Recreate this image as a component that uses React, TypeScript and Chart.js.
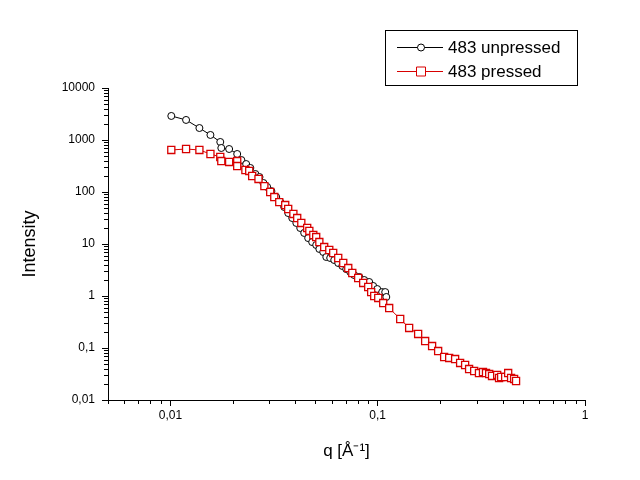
import React, { useEffect, useRef } from "react";
import { Chart, registerables } from "chart.js";

Chart.register(...registerables);

const seriesLabels = ["483 unpressed", "483 pressed"];

const unpressedQ = [
  0.0101, 0.0119, 0.0138, 0.0156, 0.0174, 0.0176, 0.0192, 0.021, 0.022, 0.0232,
  0.0243, 0.0257, 0.0269, 0.0281, 0.0293, 0.0307, 0.0324, 0.0339, 0.0354, 0.037,
  0.0387, 0.0405, 0.0423, 0.0442, 0.0462, 0.0483, 0.0505, 0.0523, 0.0546, 0.0565,
  0.059, 0.0617, 0.0645, 0.0675, 0.0705, 0.0737, 0.077, 0.0815, 0.0861, 0.091,
  0.0951, 0.0995, 0.1051, 0.1087, 0.11,
];
const unpressedI = [
  2900, 2430, 1700, 1250, 916, 702, 671, 538, 412, 345,
  290, 222, 194, 149, 125, 104, 80, 64, 51.5, 39.4,
  31.6, 25.4, 20.3, 16.3, 13.0, 10.9, 9.57, 8.02, 7.02, 5.62,
  5.38, 4.92, 4.31, 3.78, 3.3, 2.9, 2.53, 2.32, 2.03, 1.86,
  1.56, 1.36, 1.19, 1.19, 0.957,
];

const pressedQ = [
  0.0101, 0.0119, 0.0138, 0.0156, 0.0174, 0.0176, 0.0192, 0.021, 0.021, 0.023,
  0.024, 0.0248, 0.0266, 0.0284, 0.0303, 0.0317, 0.0335, 0.0358, 0.037, 0.0392,
  0.0409, 0.0428, 0.0457, 0.0468, 0.0489, 0.0505, 0.0523, 0.0552, 0.0584, 0.061,
  0.0645, 0.0682, 0.0721, 0.0754, 0.0805, 0.0851, 0.09, 0.093, 0.0962, 0.1006,
  0.1063, 0.1136, 0.1284, 0.1418, 0.1567, 0.1694, 0.183, 0.1957, 0.2092, 0.2212,
  0.2363, 0.2498, 0.2641, 0.276, 0.292, 0.308, 0.322, 0.333, 0.345, 0.356,
  0.377, 0.385, 0.394, 0.412, 0.426, 0.44, 0.455, 0.465,
];
const pressedI = [
  643, 671, 643, 538, 471, 394, 378, 394, 316, 265,
  254, 203, 178, 130, 100, 80, 64, 56.2, 47.1, 37.8,
  31.6, 25.4, 20.3, 17.8, 14.9, 13.6, 10.9, 8.75, 7.67, 6.71,
  5.38, 4.31, 3.45, 2.77, 2.22, 1.78, 1.49, 1.19, 1.0, 0.916,
  0.733, 0.587, 0.361, 0.243, 0.186, 0.136, 0.109, 0.0875, 0.0671, 0.0643,
  0.0614, 0.0515, 0.0471, 0.0394, 0.0361, 0.033, 0.0345, 0.033, 0.0316, 0.029,
  0.0303, 0.0265, 0.0277, 0.0277, 0.033, 0.0265, 0.0254, 0.0232,
];

const xMajorTicks = [0.01, 0.1, 1];
const yMajorTicks = [0.01, 0.1, 1, 10, 100, 1000, 10000];
const xMinorTicks = [
  0.005, 0.006, 0.007, 0.008, 0.009,
  0.02, 0.03, 0.04, 0.05, 0.06, 0.07, 0.08, 0.09,
  0.2, 0.3, 0.4, 0.5, 0.6, 0.7, 0.8, 0.9,
];
const yMinorTicks = [
  0.02, 0.03, 0.04, 0.05, 0.06, 0.07, 0.08, 0.09,
  0.2, 0.3, 0.4, 0.5, 0.6, 0.7, 0.8, 0.9,
  2, 3, 4, 5, 6, 7, 8, 9,
  20, 30, 40, 50, 60, 70, 80, 90,
  200, 300, 400, 500, 600, 700, 800, 900,
  2000, 3000, 4000, 5000, 6000, 7000, 8000, 9000,
];

const RED = "#d80000";
const FONT = "'Liberation Sans', Arial, sans-serif";

const fmt = (v: number) => String(v).replace(".", ",");

const minorTicksPlugin = {
  id: "minorTicks",
  afterDraw(chart: any) {
    const { ctx, chartArea } = chart;
    const x = chart.scales.x;
    const y = chart.scales.y;
    ctx.save();
    ctx.strokeStyle = "#000";
    ctx.lineWidth = 1;
    ctx.beginPath();
    xMinorTicks.forEach((v) => {
      const px = Math.round(x.getPixelForValue(v)) + 0.5;
      ctx.moveTo(px, chartArea.bottom);
      ctx.lineTo(px, chartArea.bottom + 4);
    });
    yMinorTicks.forEach((v) => {
      const py = Math.round(y.getPixelForValue(v)) + 0.5;
      ctx.moveTo(chartArea.left - 4, py);
      ctx.lineTo(chartArea.left, py);
    });
    ctx.stroke();
    ctx.restore();
  },
};

const boxLegendPlugin = {
  id: "boxLegend",
  afterDraw(chart: any) {
    const ctx = chart.ctx;
    ctx.save();
    ctx.fillStyle = "#fff";
    ctx.fillRect(386, 31, 191, 54);
    ctx.strokeStyle = "#000";
    ctx.lineWidth = 1;
    ctx.strokeRect(385.5, 30.5, 192, 55);
    const rows = [
      { label: seriesLabels[0], color: "#000", style: "circle", y: 47.5 },
      { label: seriesLabels[1], color: RED, style: "rect", y: 71.5 },
    ];
    rows.forEach((r) => {
      ctx.strokeStyle = r.color;
      ctx.lineWidth = 1;
      ctx.beginPath();
      ctx.moveTo(397, r.y);
      ctx.lineTo(443, r.y);
      ctx.stroke();
      ctx.fillStyle = "#fff";
      ctx.beginPath();
      if (r.style === "circle") {
        ctx.arc(421, r.y, 3.5, 0, Math.PI * 2);
      } else {
        ctx.rect(416.5, r.y - 4.5, 9, 9);
      }
      ctx.fill();
      ctx.stroke();
      ctx.fillStyle = "#000";
      ctx.font = `17px ${FONT}`;
      ctx.textBaseline = "middle";
      ctx.textAlign = "left";
      ctx.fillText(r.label, 448, r.y + 1);
    });
    ctx.restore();
  },
};

export default function App() {
  const canvasRef = useRef<HTMLCanvasElement | null>(null);

  useEffect(() => {
    if (!canvasRef.current) return;
    const chart = new Chart(canvasRef.current, {
      type: "scatter",
      data: {
        datasets: [
          {
            label: seriesLabels[0],
            data: unpressedQ.map((q, i) => ({ x: q, y: unpressedI[i] })),
            showLine: true,
            borderColor: "#000",
            borderWidth: 1,
            backgroundColor: "#fff",
            pointStyle: "circle",
            pointRadius: 3.5,
            pointBorderWidth: 1,
            pointBorderColor: "#000",
            pointBackgroundColor: "#fff",
            order: 1,
          },
          {
            label: seriesLabels[1],
            data: pressedQ.map((q, i) => ({ x: q, y: pressedI[i] })),
            showLine: true,
            borderColor: RED,
            borderWidth: 1,
            backgroundColor: "#fff",
            pointStyle: "rect",
            pointRadius: 5,
            pointBorderWidth: 1.3,
            pointBorderColor: RED,
            pointBackgroundColor: "#fff",
            order: 0,
          },
        ],
      },
      options: {
        responsive: false,
        animation: false,
        layout: { padding: { top: 88, right: 55, left: 0, bottom: 0 } },
        plugins: {
          legend: { display: false },
          tooltip: { enabled: false },
        },
        scales: {
          x: {
            type: "logarithmic",
            min: 0.005,
            max: 1,
            afterBuildTicks: (scale: any) => {
              scale.ticks = xMajorTicks.map((v) => ({ value: v }));
            },
            afterFit: (scale: any) => {
              scale.height = 80;
            },
            grid: {
              display: true,
              drawOnChartArea: false,
              drawTicks: true,
              tickLength: 6,
              color: "#000",
              tickColor: "#000",
            },
            border: { display: true, color: "#000", width: 1 },
            ticks: {
              color: "#000",
              font: { family: FONT, size: 12 },
              padding: 2,
              maxRotation: 0,
              autoSkip: false,
              callback: (v: any) => fmt(Number(v)),
            },
            title: {
              display: true,
              text: "q [Å⁻¹]",
              color: "#000",
              font: { family: FONT, size: 17 },
              padding: { top: 0, bottom: 18 },
            },
          },
          y: {
            type: "logarithmic",
            min: 0.01,
            max: 10000,
            afterBuildTicks: (scale: any) => {
              scale.ticks = yMajorTicks.map((v) => ({ value: v }));
            },
            afterFit: (scale: any) => {
              scale.width = 108;
            },
            grid: {
              display: true,
              drawOnChartArea: false,
              drawTicks: true,
              tickLength: 6,
              color: "#000",
              tickColor: "#000",
            },
            border: { display: true, color: "#000", width: 1 },
            ticks: {
              color: "#000",
              font: { family: FONT, size: 12 },
              padding: 7,
              autoSkip: false,
              callback: (v: any) => fmt(Number(v)),
            },
            title: {
              display: true,
              text: "Intensity",
              color: "#000",
              font: { family: FONT, size: 18 },
              padding: { top: 19, bottom: 0 },
            },
          },
        },
      },
      plugins: [minorTicksPlugin, boxLegendPlugin],
    });
    return () => chart.destroy();
  }, []);

  return (
    <div style={{ position: "fixed", left: 0, top: 0, width: 640, height: 480, background: "#fff" }}>
      <canvas ref={canvasRef} width={640} height={480} />
    </div>
  );
}
